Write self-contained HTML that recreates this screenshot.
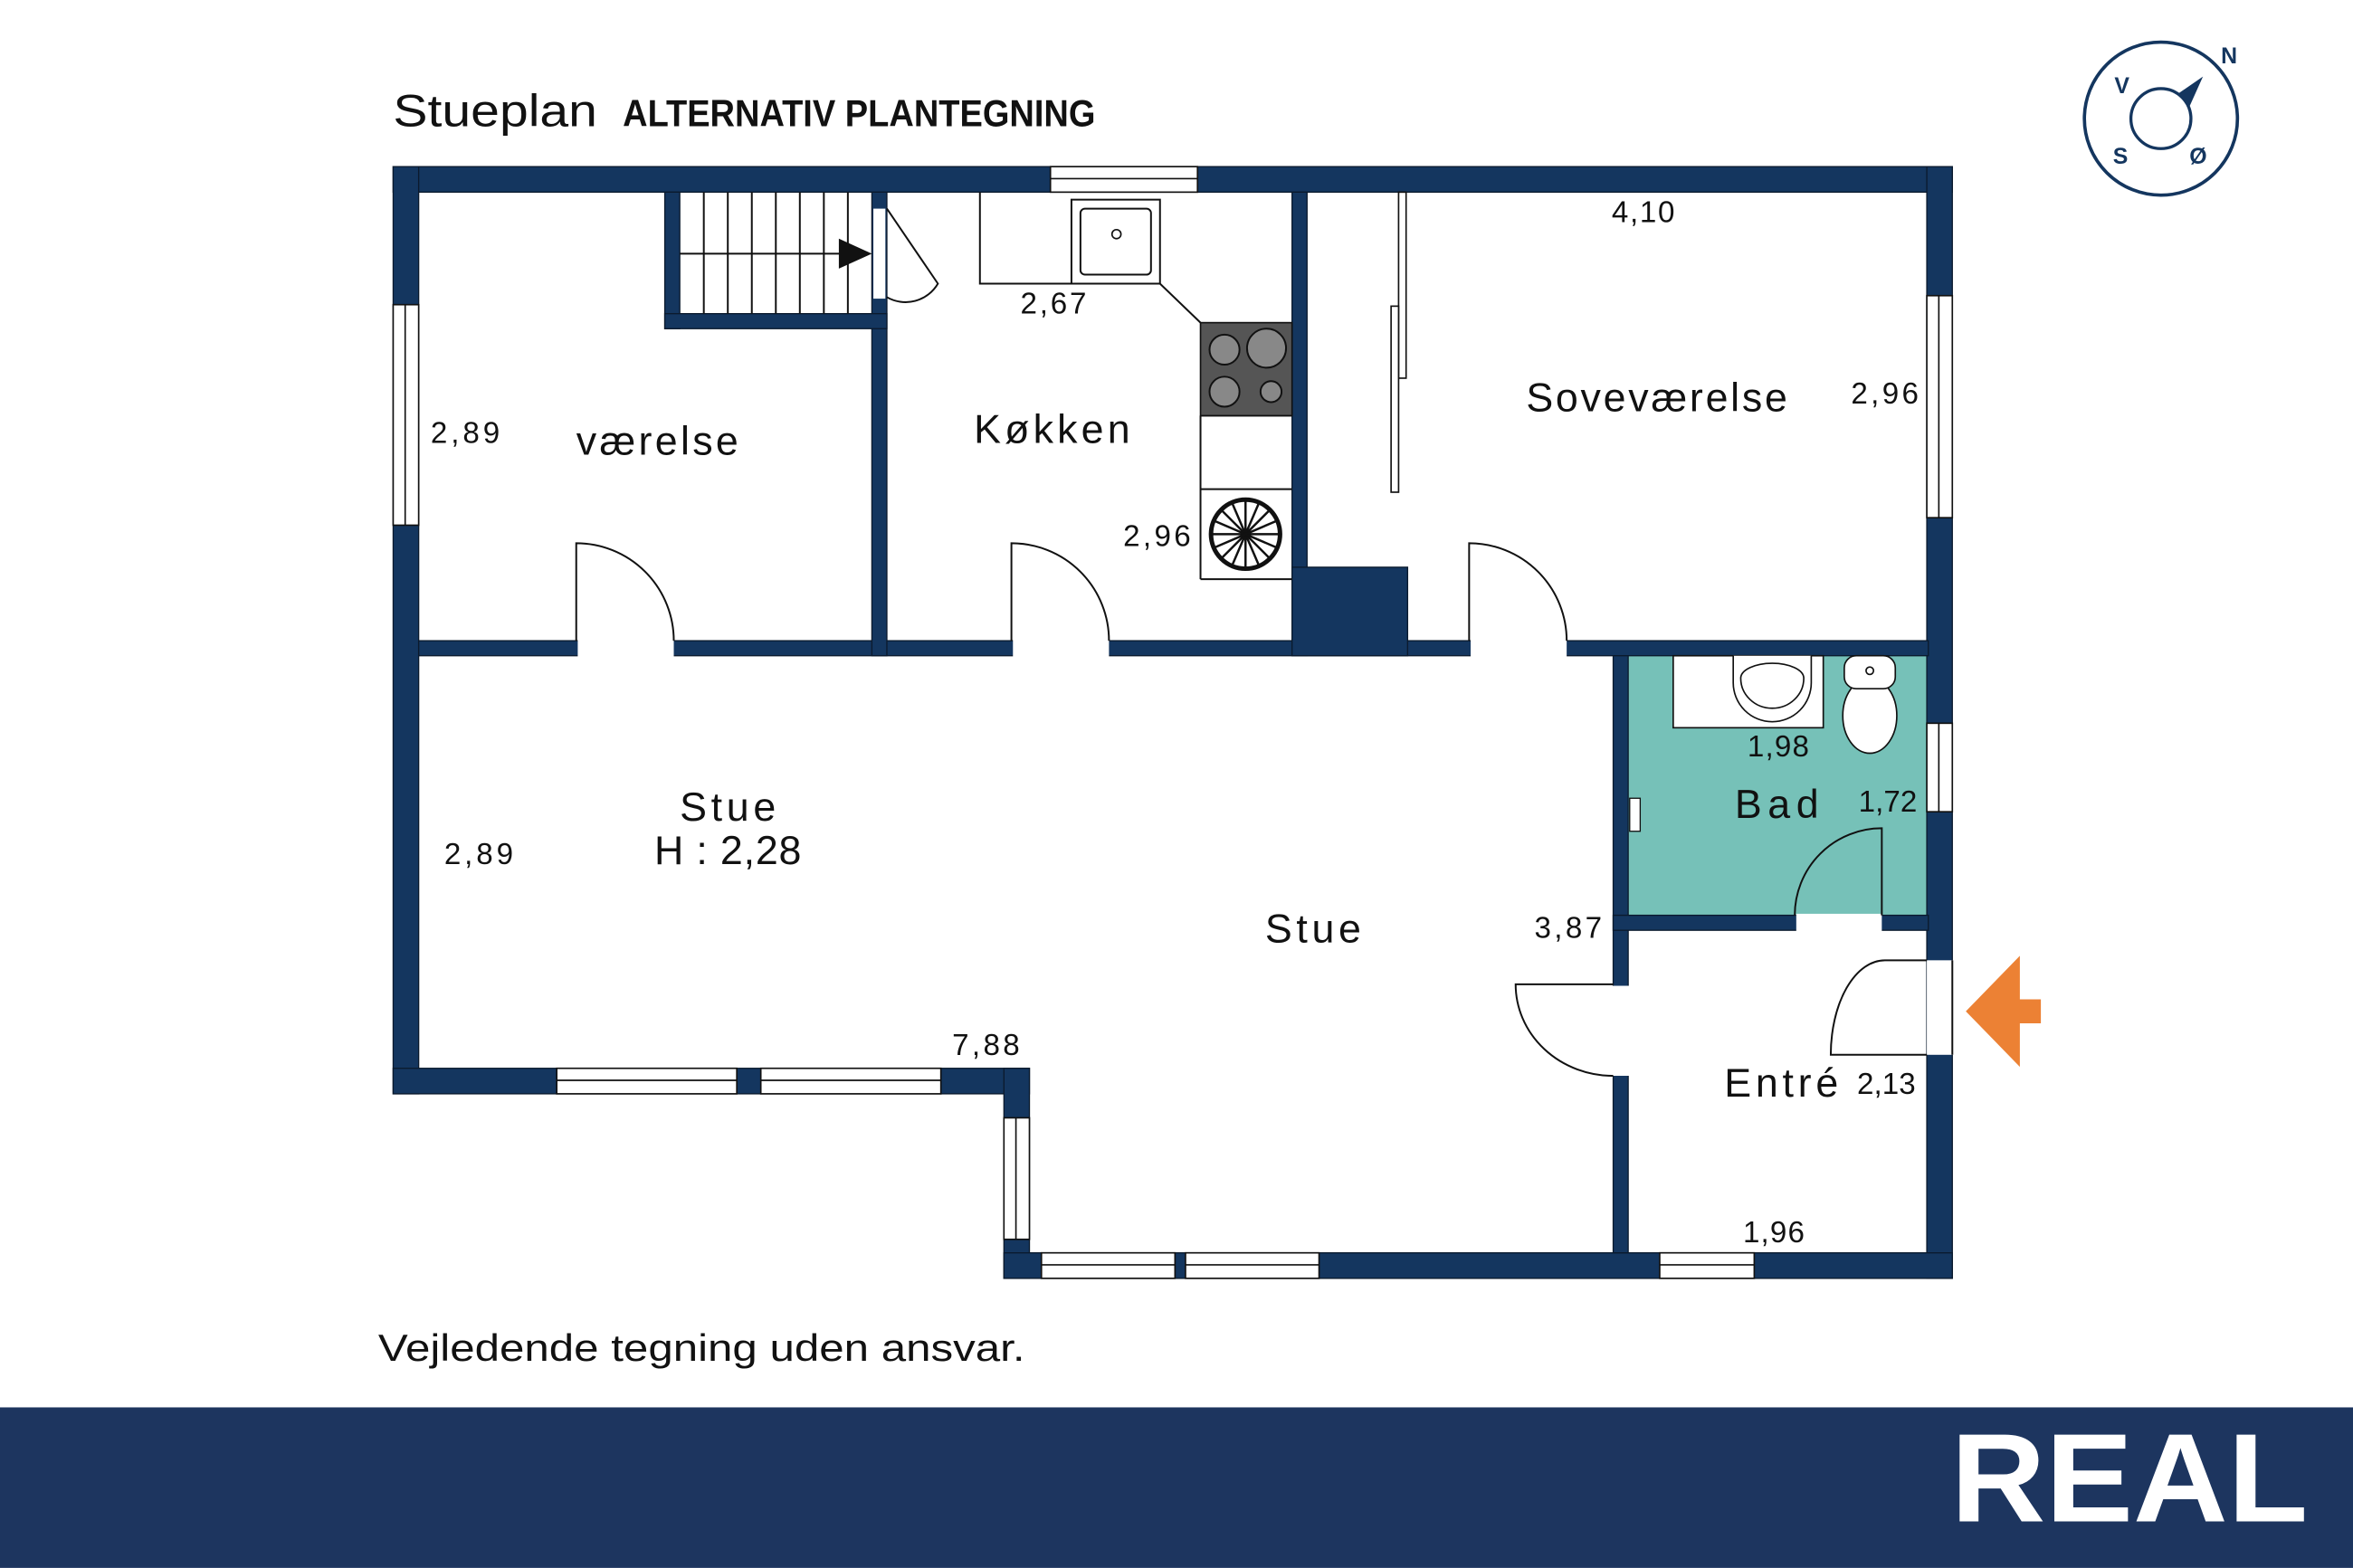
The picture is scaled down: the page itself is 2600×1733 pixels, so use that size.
<!DOCTYPE html>
<html><head><meta charset="utf-8"><style>
html,body{margin:0;padding:0;background:#fff;}
svg{display:block;}
text{font-family:"Liberation Sans","DejaVu Sans",sans-serif;fill:#111;}
</style></head><body>
<svg width="2600" height="1733" viewBox="0 0 1568 1045" xmlns="http://www.w3.org/2000/svg">
<defs><style>.w{fill:#14365f;stroke:#0b1a2d;stroke-width:0.8}.win{fill:#fff;stroke:#111;stroke-width:1}.l{fill:none;stroke:#111;stroke-width:1.2}.dim{font-size:20px}.rm{font-size:27px}</style></defs>

<rect x="1085" y="437" width="199" height="173" fill="#76c1b8"/>

<rect class="w" x="262" y="111" width="1039" height="17"/>
<rect class="w" x="262" y="111" width="17" height="618"/>
<rect class="w" x="1284" y="111" width="17" height="741"/>
<rect class="w" x="262" y="712" width="424" height="17"/>
<rect class="w" x="669" y="712" width="17" height="140"/>
<rect class="w" x="669" y="835" width="632" height="17"/>

<rect class="w" x="279" y="427" width="1006" height="10"/>
<rect class="w" x="581" y="128" width="10" height="309"/>
<rect class="w" x="443" y="128" width="10" height="91"/>
<rect class="w" x="443" y="209" width="148" height="10"/>
<rect class="w" x="861" y="128" width="10" height="309"/>
<rect class="w" x="861" y="378" width="77" height="59"/>
<rect class="w" x="1075" y="437" width="10" height="398"/>
<rect class="w" x="1075" y="610" width="210" height="10"/>

<rect x="385" y="426" width="64" height="12" fill="#fff"/>
<rect x="675" y="426" width="64" height="12" fill="#fff"/>
<rect x="980" y="426" width="64" height="12" fill="#fff"/>
<rect x="1197" y="609" width="57" height="12" fill="#fff"/>
<rect x="1074" y="657" width="12" height="60" fill="#fff"/>
<rect x="1284" y="640" width="18" height="63" fill="#fff"/>
<line class="l" x1="1301" y1="640" x2="1301" y2="703"/>
<rect x="582" y="139" width="8" height="60" fill="#fff"/>

<g class="win">
<rect x="262" y="203" width="17" height="147"/><line x1="270" y1="203" x2="270" y2="350" stroke="#111"/>
<rect x="700" y="111" width="98" height="17"/><line x1="700" y1="119" x2="798" y2="119" stroke="#111"/>
<rect x="1284" y="197" width="17" height="148"/><line x1="1292" y1="197" x2="1292" y2="345" stroke="#111"/>
<rect x="1284" y="482" width="17" height="59"/><line x1="1292" y1="482" x2="1292" y2="541" stroke="#111"/>
<rect x="371" y="712" width="120" height="17"/><line x1="371" y1="720" x2="491" y2="720" stroke="#111"/>
<rect x="507" y="712" width="120" height="17"/><line x1="507" y1="720" x2="627" y2="720" stroke="#111"/>
<rect x="669" y="745" width="17" height="81"/><line x1="677" y1="745" x2="677" y2="826" stroke="#111"/>
<rect x="694" y="835" width="89" height="17"/><line x1="694" y1="843" x2="783" y2="843" stroke="#111"/>
<rect x="790" y="835" width="89" height="17"/><line x1="790" y1="843" x2="879" y2="843" stroke="#111"/>
<rect x="1106" y="835" width="63" height="17"/><line x1="1106" y1="843" x2="1169" y2="843" stroke="#111"/>
</g>

<g class="l">
<path d="M384 427 V362 A65 65 0 0 1 449 427"/>
<path d="M674 427 V362 A65 65 0 0 1 739 427"/>
<path d="M979 427 V362 A65 65 0 0 1 1044 427"/>
<path d="M1254 610 V552 A58 58 0 0 0 1196 610"/>
<path d="M1075 656 H1010 A65 61 0 0 0 1075 717"/>
<path d="M1284 640 H1256 A36 63 0 0 0 1220 703 H1284"/>
<path d="M591 139 L625 189 A25 25 0 0 1 591 198"/>
</g>

<g class="l" stroke-width="1">
<line x1="453" y1="169" x2="575" y2="169"/>
<line x1="469" y1="128" x2="469" y2="209"/><line x1="485" y1="128" x2="485" y2="209"/>
<line x1="501" y1="128" x2="501" y2="209"/><line x1="517" y1="128" x2="517" y2="209"/>
<line x1="533" y1="128" x2="533" y2="209"/><line x1="549" y1="128" x2="549" y2="209"/>
<line x1="565" y1="128" x2="565" y2="209"/>
</g>
<polygon points="559,159 581,169 559,179" fill="#111"/>

<g class="l" stroke-width="1">
<path d="M653 128 V189 H773 L800 215"/>
<rect x="714" y="133" width="59" height="56"/>
<rect x="720" y="139" width="47" height="44" rx="3"/>
<line x1="800" y1="277" x2="861" y2="277"/>
<line x1="800" y1="277" x2="800" y2="386"/>
<line x1="800" y1="326" x2="861" y2="326"/>
<line x1="800" y1="386" x2="861" y2="386"/>
</g>
<circle cx="744" cy="156" r="3" fill="none" stroke="#111"/>
<rect x="800" y="215" width="61" height="62" fill="#555" stroke="#111"/>
<g stroke="#111" stroke-width="1.2" fill="#888">
<circle cx="816" cy="233" r="10"/><circle cx="844" cy="232" r="13"/>
<circle cx="816" cy="261" r="10"/><circle cx="847" cy="261" r="7"/>
</g>
<circle cx="830" cy="356" r="23" fill="#fff" stroke="#111" stroke-width="3"/>
<g stroke="#111" stroke-width="1.5">
<line x1="807" y1="356" x2="853" y2="356"/><line x1="830" y1="333" x2="830" y2="379"/>
<line x1="814" y1="340" x2="846" y2="372"/><line x1="846" y1="340" x2="814" y2="372"/>
<line x1="821" y1="335" x2="839" y2="377"/><line x1="839" y1="335" x2="821" y2="377"/>
<line x1="809" y1="347" x2="851" y2="365"/><line x1="809" y1="365" x2="851" y2="347"/>
</g>

<rect x="932" y="128" width="5" height="124" fill="#fff" stroke="#111"/>
<rect x="927" y="204" width="5" height="124" fill="#fff" stroke="#111"/>

<rect x="1115" y="437" width="100" height="48" fill="#fff" stroke="#111"/>
<path d="M1155 437 V455 A26 26 0 0 0 1207 455 V437" fill="#fff" stroke="#111"/>
<path d="M1160 452 A21 20 0 0 0 1202 452 A21 10 0 0 0 1160 452 Z" fill="none" stroke="#111"/>
<ellipse cx="1246" cy="477" rx="18" ry="25" fill="#fff" stroke="#111"/>
<rect x="1229" y="437" width="34" height="22" rx="8" fill="#fff" stroke="#111"/>
<circle cx="1246" cy="447" r="2.5" fill="none" stroke="#111"/>
<rect x="1086" y="532" width="7" height="22" fill="#fff" stroke="#111" stroke-width="0.8"/>

<polygon points="1310,674 1346,637 1346,666 1360,666 1360,682 1346,682 1346,711" fill="#ec8134"/>

<text x="262" y="84" font-size="30" textLength="136" lengthAdjust="spacingAndGlyphs">Stueplan</text>
<text x="415" y="84" font-size="25" font-weight="bold" textLength="315" lengthAdjust="spacingAndGlyphs">ALTERNATIV PLANTEGNING</text>
<text x="252" y="907" font-size="25" textLength="431" lengthAdjust="spacingAndGlyphs">Vejledende tegning uden ansvar.</text>

<g class="rm" text-anchor="middle" lengthAdjust="spacingAndGlyphs">
<text x="438" y="303" textLength="108">værelse</text>
<text x="701" y="295" textLength="104">Køkken</text>
<text x="1104" y="274" textLength="174">Soveværelse</text>
<text x="485" y="547" textLength="64">Stue</text>
<text x="485" y="576" textLength="98">H : 2,28</text>
<text x="875" y="628" textLength="64">Stue</text>
<text x="1184" y="545" textLength="56">Bad</text>
<text x="1187" y="731" textLength="76">Entré</text>
</g>
<g class="dim" text-anchor="middle">
<text x="310" y="295" textLength="46">2,89</text>
<text x="702" y="209" textLength="44">2,67</text>
<text x="771" y="364" textLength="45">2,96</text>
<text x="1095" y="148" textLength="42">4,10</text>
<text x="1256" y="269" textLength="45">2,96</text>
<text x="319" y="576" textLength="46">2,89</text>
<text x="657" y="703" textLength="45">7,88</text>
<text x="1045" y="625" textLength="45">3,87</text>
<text x="1185" y="504" textLength="41">1,98</text>
<text x="1258" y="541" textLength="39">1,72</text>
<text x="1257" y="729" textLength="39">2,13</text>
<text x="1182" y="828" textLength="41">1,96</text>
</g>

<circle cx="1440" cy="79" r="51" fill="none" stroke="#14365f" stroke-width="2.2"/>
<circle cx="1440" cy="79" r="20" fill="none" stroke="#14365f" stroke-width="2"/>
<polygon points="1468,51 1452,62 1459,71" fill="#14365f"/>
<g font-weight="bold" font-size="15">
<text x="1480" y="42" style="fill:#14365f">N</text>
<text x="1409" y="62" style="fill:#14365f">V</text>
<text x="1408" y="109" style="fill:#14365f">S</text>
<text x="1459" y="109" style="fill:#14365f">Ø</text>
</g>

<rect x="0" y="938" width="1568" height="107" fill="#1d355f"/>
<text x="1300" y="1014" font-size="84" font-weight="bold" textLength="238" lengthAdjust="spacingAndGlyphs" style="fill:#fff">REAL</text>
</svg>
</body></html>
